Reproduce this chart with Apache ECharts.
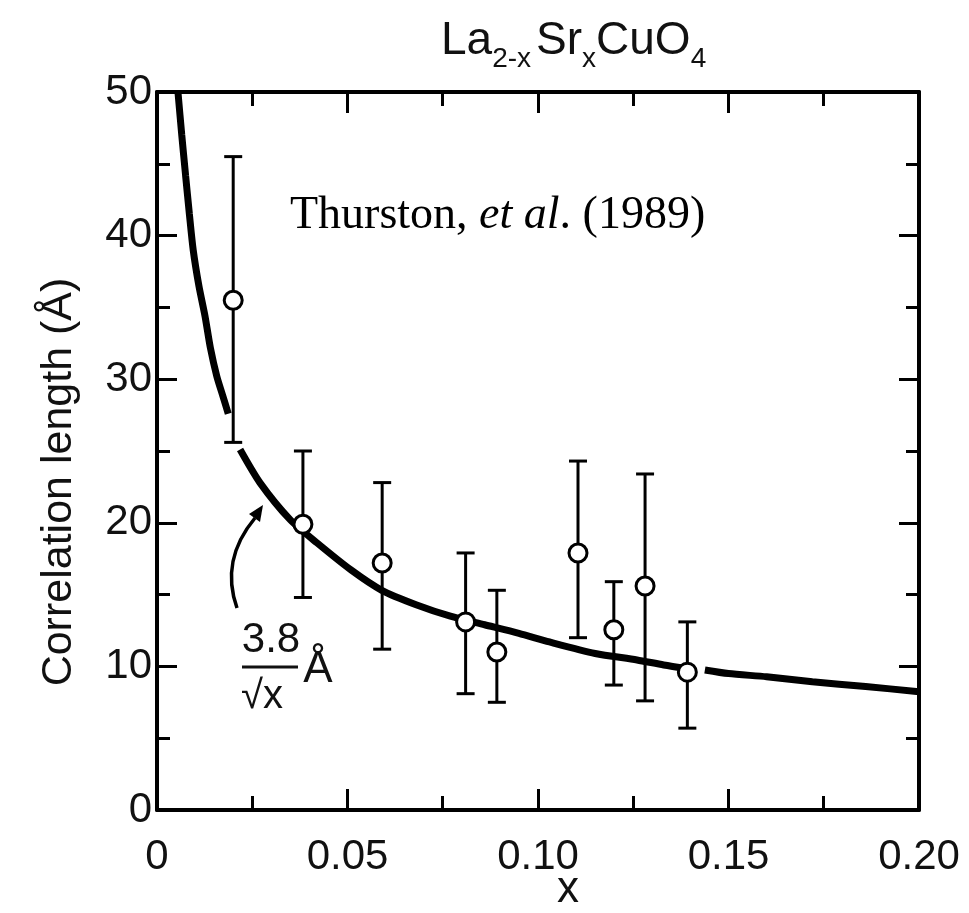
<!DOCTYPE html>
<html>
<head>
<meta charset="utf-8">
<script src="https://cdn.jsdelivr.net/npm/echarts@6/dist/echarts.min.js"></script>
<style>
html,body{margin:0;padding:0;background:#fff;}
#chart{width:969px;height:913px;}
</style>
</head>
<body>
<div id="chart"></div>
<script>
// ---- data ----
var pointX  = [0.0200, 0.0383, 0.0591, 0.0810, 0.0892, 0.1105, 0.1199, 0.1281, 0.1392];
var pointY  = [35.5, 19.9, 17.2, 13.1, 11.0, 17.9, 12.55, 15.6, 9.6];
var errHigh = [45.5, 25.0, 22.8, 17.9, 15.3, 24.3, 15.9, 23.4, 13.1];
var errLow  = [25.6, 14.8, 11.2, 8.1, 7.5, 12.0, 8.7, 7.6, 5.7];

// fitted curve 3.8/sqrt(x) as traced (null = gap in the drawn line)
var curveX = [0.0055, 0.0065, 0.0075, 0.0085, 0.0095, 0.011, 0.0126, 0.014, 0.0157, 0.0172, 0.0187, null, 0.0218, 0.027, 0.035, 0.042, 0.051, 0.059, 0.068, 0.077, 0.086, 0.095, 0.103, 0.115, 0.126, 0.133, 0.1392, null, 0.1438, 0.150, 0.160, 0.172, 0.186, 0.200];
var curveY = [50, 47.0, 44.2, 41.5, 39.0, 36.5, 34.4, 32.2, 30.2, 28.9, 27.6, null, 25.1, 22.8, 20.2, 18.6, 16.7, 15.3, 14.3, 13.5, 12.9, 12.3, 11.7, 10.9, 10.45, 10.1, 9.85, null, 9.75, 9.5, 9.28, 8.93, 8.6, 8.24];

var xTickLabels = ['0', '0.05', '0.10', '0.15', '0.20'];
var yTickLabels = ['0', '10', '20', '30', '40', '50'];

var titleParts = ['La', '2-x', 'Sr', 'x', 'CuO', '4'];
var yName = 'Correlation length (Å)';
var xName = 'x';
var citeParts = ['Thurston, ', 'et al', '. (1989)'];
var fitParts = ['3.8', '√x', 'Å'];

// ---- chart ----
var chart = echarts.init(document.getElementById('chart'), null, {renderer: 'canvas'});
var sans = '"Liberation Sans", Arial, sans-serif';
var serif = '"Liberation Serif", "Times New Roman", serif';

var curveData = curveX.map(function (x, i) {
  return [x === null ? '-' : x, curveY[i] === null ? '-' : curveY[i]];
});
var pointData = pointX.map(function (x, i) { return [x, pointY[i]]; });
var errData = pointX.map(function (x, i) { return [x, errLow[i], errHigh[i]]; });

var axisLineStyle = {color: '#000', width: 4};
var tickStyle = {color: '#000', width: 3};

function xAxisCfg(pos, showLabel) {
  return {
    type: 'value', position: pos, min: 0, max: 0.2, interval: 0.05,
    splitLine: {show: false},
    axisLine: {show: true, onZero: false, lineStyle: axisLineStyle},
    axisTick: {show: true, inside: true, length: 21, lineStyle: tickStyle},
    minorTick: {show: true, splitNumber: 2, length: 14, lineStyle: tickStyle},
    axisLabel: {
      show: showLabel, margin: 26, color: '#111', fontFamily: sans, fontSize: 42,
      formatter: function (v) { return xTickLabels[Math.round(v / 0.05)]; }
    },
    name: showLabel ? xName : '', nameLocation: 'middle', nameGap: 58, nameMoveOverlap: false,
    nameTextStyle: {color: '#111', fontFamily: sans, fontSize: 44, padding: [0, 0, 0, 60]}
  };
}
function yAxisCfg(pos, showLabel) {
  return {
    type: 'value', position: pos, min: 0, max: 50, interval: 10,
    splitLine: {show: false},
    axisLine: {show: true, onZero: false, lineStyle: axisLineStyle},
    axisTick: {show: true, inside: true, length: 20, lineStyle: tickStyle},
    minorTick: {show: true, splitNumber: 2, length: 13, lineStyle: tickStyle},
    axisLabel: {
      show: showLabel, margin: 5, color: '#111', fontFamily: sans, fontSize: 42,
      formatter: function (v) { return yTickLabels[Math.round(v / 10)]; }
    },
    name: showLabel ? yName : '', nameLocation: 'middle', nameRotate: 90, nameGap: 76,
    nameTextStyle: {color: '#111', fontFamily: sans, fontSize: 43, padding: [0, 62, 0, 0]}
  };
}

var option = {
  backgroundColor: '#fff',
  animation: false,
  title: {
    text: '{n|' + titleParts[0] + '}{s|' + titleParts[1] + '} {n|' + titleParts[2] + '}{s|' + titleParts[3] + '}{n|' + titleParts[4] + '}{s|' + titleParts[5] + '}',
    left: 436, top: 4,
    textStyle: {
      fontWeight: 'normal',
      rich: {
        n: {fontFamily: sans, fontSize: 46, fontWeight: 'normal', color: '#111', lineHeight: 48},
        s: {fontFamily: sans, fontSize: 28, fontWeight: 'normal', color: '#111', lineHeight: 64, verticalAlign: 'bottom'}
      }
    }
  },
  grid: {left: 157, right: 50, top: 92, bottom: 103, containLabel: false, outerBoundsMode: 'none'},
  xAxis: [xAxisCfg('bottom', true), xAxisCfg('top', false)],
  yAxis: [yAxisCfg('left', true), yAxisCfg('right', false)],
  series: [
    {
      type: 'line', data: curveData, showSymbol: false, symbol: 'none',
      smooth: 0.25, connectNulls: false, z: 2,
      lineStyle: {color: '#000', width: 7}
    },
    {
      type: 'custom', data: errData, z: 3,
      encode: {x: 0, y: [1, 2]},
      renderItem: function (params, api) {
        var x = api.value(0);
        var lo = api.coord([x, api.value(1)]);
        var hi = api.coord([x, api.value(2)]);
        var hw = 9;
        var st = {stroke: '#000', lineWidth: 3};
        return {
          type: 'group',
          children: [
            {type: 'line', shape: {x1: lo[0], y1: lo[1], x2: hi[0], y2: hi[1]}, style: st},
            {type: 'line', shape: {x1: lo[0] - hw, y1: lo[1], x2: lo[0] + hw, y2: lo[1]}, style: st},
            {type: 'line', shape: {x1: hi[0] - hw, y1: hi[1], x2: hi[0] + hw, y2: hi[1]}, style: st}
          ]
        };
      }
    },
    {
      type: 'scatter', data: pointData, z: 4,
      symbol: 'circle', symbolSize: 18,
      itemStyle: {color: '#fff', borderColor: '#000', borderWidth: 3, opacity: 1}
    }
  ],
  graphic: [
    {
      type: 'text', z: 10,
      style: {
        x: 290, y: 216, textVerticalAlign: 'middle',
        text: '{r|' + citeParts[0] + '}{i|' + citeParts[1] + '}{r|' + citeParts[2] + '}',
        rich: {
          r: {fontFamily: serif, fontSize: 46, fill: '#000'},
          i: {fontFamily: serif, fontSize: 46, fontStyle: 'italic', fill: '#000'}
        }
      }
    },
    // fraction label of the fit
    {type: 'text', z: 10, style: {x: 271, y: 640, text: fitParts[0], textAlign: 'center', textVerticalAlign: 'middle', fontFamily: sans, fontSize: 42, fill: '#111'}},
    {type: 'line', z: 10, shape: {x1: 242, y1: 667, x2: 298, y2: 667}, style: {stroke: '#111', lineWidth: 3}},
    {type: 'text', z: 10, style: {x: 262, y: 697, text: fitParts[1], textAlign: 'center', textVerticalAlign: 'middle', fontFamily: sans, fontSize: 40, fill: '#111'}},
    {type: 'text', z: 10, style: {x: 318, y: 670, text: fitParts[2], textAlign: 'center', textVerticalAlign: 'middle', fontFamily: sans, fontSize: 44, fill: '#111'}},
    // curved arrow
    {type: 'bezierCurve', z: 10, shape: {x1: 237, y1: 608, cpx1: 220, cpy1: 560, x2: 255, y2: 518}, style: {stroke: '#000', lineWidth: 3.5, fill: null}},
    {type: 'polygon', z: 10, shape: {points: [[263, 505], [249, 514], [260, 522]]}, style: {fill: '#000'}}
  ]
};
chart.setOption(option);
</script>
</body>
</html>
